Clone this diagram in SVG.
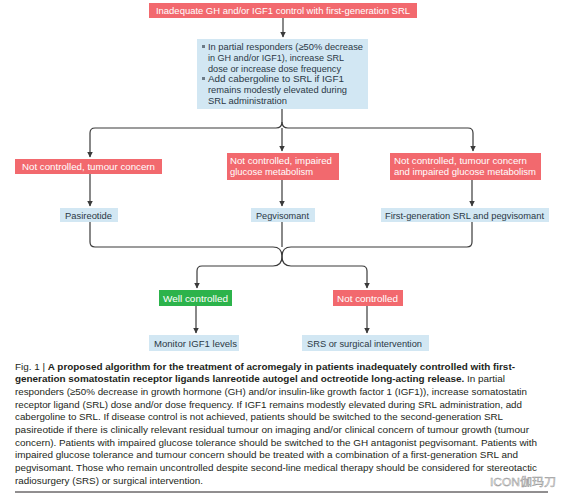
<svg xmlns="http://www.w3.org/2000/svg" width="577" height="500" viewBox="0 0 577 500">
<defs>
<marker id="arr" markerUnits="userSpaceOnUse" markerWidth="6" markerHeight="6" refX="5.5" refY="3" orient="auto">
<path d="M0,0 L6,3 L0,6 z" fill="#3a3a3a"/>
</marker>
<style>
.red{fill:#f2696e}
.blue{fill:#d2e7f3}
.green{fill:#2cb34b}
.wt{font-family:"Liberation Sans",Arial,sans-serif;font-size:9.3px;fill:#ffffff}
.bt{font-family:"Liberation Sans",Arial,sans-serif;font-size:9.3px;fill:#2b3845}
.cap{font-family:"Liberation Sans",Arial,sans-serif;font-size:9.5px;fill:#231f20}
.b{font-weight:bold}
.ln{fill:none;stroke:#3a3a3a;stroke-width:1.2}
.ar{marker-end:url(#arr)}
</style>
</defs>
<rect width="577" height="500" fill="#ffffff"/>

<g id="connectors">
<path class="ln ar" d="M283,18 V37"/>
<path class="ln ar" d="M282,109 V122 Q282,128 276,128 H95 Q90,128 90,133 V157"/>
<path class="ln ar" d="M282,122 Q282,128 288,128 H468 Q473,128 473,133 V151"/>
<path class="ln ar" d="M282,128 V151"/>
<path class="ln ar" d="M90,174 V206"/>
<path class="ln ar" d="M282,180 V206"/>
<path class="ln ar" d="M472,180 V206"/>
<path class="ln ar" d="M90,222 V242 Q90,247 95,247 H273 Q282,247 282,256.5 Q282,266 273,266 H202 Q197,266 197,271 V288"/>
<path class="ln ar" d="M472,222 V242 Q472,247 467,247 H291 Q282,247 282,256.5 Q282,266 291,266 H362 Q367,266 367,271 V288"/>
<path class="ln" d="M282,222 V247"/>
<path class="ln ar" d="M196,306 V333"/>
<path class="ln ar" d="M367,306 V333"/>
</g>

<g id="start">
<rect class="red" x="149" y="3" width="268" height="15"/>
<text class="wt" x="156" y="14" textLength="254" lengthAdjust="spacingAndGlyphs">Inadequate GH and/or IGF1 control with first-generation SRL</text>
</g>

<g id="adjust">
<rect class="blue" x="197" y="39" width="171" height="70"/>
<rect x="202" y="45" width="3" height="3" fill="#6c7a86"/>
<rect x="202" y="77" width="3" height="3" fill="#6c7a86"/>
<text class="bt" x="208" y="50" textLength="155" lengthAdjust="spacingAndGlyphs">In partial responders (≥50% decrease</text>
<text class="bt" x="208" y="61" textLength="136" lengthAdjust="spacingAndGlyphs">in GH and/or IGF1), increase SRL</text>
<text class="bt" x="208" y="72" textLength="133" lengthAdjust="spacingAndGlyphs">dose or increase dose frequency</text>
<text class="bt" x="208" y="82" textLength="136" lengthAdjust="spacingAndGlyphs">Add cabergoline to SRL if IGF1</text>
<text class="bt" x="208" y="93" textLength="139" lengthAdjust="spacingAndGlyphs">remains modestly elevated during</text>
<text class="bt" x="208" y="104" textLength="79" lengthAdjust="spacingAndGlyphs">SRL administration</text>
</g>

<g id="tumour">
<rect class="red" x="15" y="159" width="147" height="15"/>
<text class="wt" x="22" y="170" textLength="133" lengthAdjust="spacingAndGlyphs">Not controlled, tumour concern</text>
</g>

<g id="glucose">
<rect class="red" x="227" y="153" width="112" height="27"/>
<text class="wt" x="230" y="164" textLength="102" lengthAdjust="spacingAndGlyphs">Not controlled, impaired</text>
<text class="wt" x="230" y="175" textLength="83" lengthAdjust="spacingAndGlyphs">glucose metabolism</text>
</g>

<g id="both">
<rect class="red" x="390" y="153" width="151" height="27"/>
<text class="wt" x="394" y="164" textLength="133" lengthAdjust="spacingAndGlyphs">Not controlled, tumour concern</text>
<text class="wt" x="394" y="175" textLength="142" lengthAdjust="spacingAndGlyphs">and impaired glucose metabolism</text>
</g>

<g id="pasireotide">
<rect class="blue" x="60" y="208" width="58" height="14"/>
<text class="bt" x="65" y="218.5" textLength="47" lengthAdjust="spacingAndGlyphs">Pasireotide</text>
</g>

<g id="pegvisomant">
<rect class="blue" x="251" y="208" width="64" height="14"/>
<text class="bt" x="256" y="218.5" textLength="53" lengthAdjust="spacingAndGlyphs">Pegvisomant</text>
</g>

<g id="combination">
<rect class="blue" x="381" y="208" width="168" height="14"/>
<text class="bt" x="385" y="218.5" textLength="159" lengthAdjust="spacingAndGlyphs">First-generation SRL and pegvisomant</text>
</g>

<g id="well">
<rect class="green" x="159" y="290" width="73" height="16"/>
<text class="wt" x="163" y="301.5" textLength="65" lengthAdjust="spacingAndGlyphs">Well controlled</text>
</g>

<g id="notcontrolled">
<rect class="red" x="333" y="290" width="70" height="16"/>
<text class="wt" x="337" y="301.5" textLength="61" lengthAdjust="spacingAndGlyphs">Not controlled</text>
</g>

<g id="monitor">
<rect class="blue" x="149" y="335" width="90" height="16"/>
<text class="bt" x="154" y="346.5" textLength="83" lengthAdjust="spacingAndGlyphs">Monitor IGF1 levels</text>
</g>

<g id="srs">
<rect class="blue" x="302" y="335" width="127" height="16"/>
<text class="bt" x="307" y="346.5" textLength="115" lengthAdjust="spacingAndGlyphs">SRS or surgical intervention</text>
</g>

<g id="caption">
<text class="cap" x="15" y="369.5" textLength="500" lengthAdjust="spacingAndGlyphs">Fig. 1 | <tspan class="b">A proposed algorithm for the treatment of acromegaly in patients inadequately controlled with first-</tspan></text>
<text class="cap" x="15" y="382.2" textLength="490" lengthAdjust="spacingAndGlyphs"><tspan class="b">generation somatostatin receptor ligands lanreotide autogel and octreotide long-acting release.</tspan> In partial</text>
<text class="cap" x="15" y="394.9" textLength="512" lengthAdjust="spacingAndGlyphs">responders (≥50% decrease in growth hormone (GH) and/or insulin-like growth factor 1 (IGF1)), increase somatostatin</text>
<text class="cap" x="15" y="407.6" textLength="507" lengthAdjust="spacingAndGlyphs">receptor ligand (SRL) dose and/or dose frequency. If IGF1 remains modestly elevated during SRL administration, add</text>
<text class="cap" x="15" y="420.3" textLength="488" lengthAdjust="spacingAndGlyphs">cabergoline to SRL. If disease control is not achieved, patients should be switched to the second-generation SRL</text>
<text class="cap" x="15" y="433" textLength="514" lengthAdjust="spacingAndGlyphs">pasireotide if there is clinically relevant residual tumour on imaging and/or clinical concern of tumour growth (tumour</text>
<text class="cap" x="15" y="445.7" textLength="522" lengthAdjust="spacingAndGlyphs">concern). Patients with impaired glucose tolerance should be switched to the GH antagonist pegvisomant. Patients with</text>
<text class="cap" x="15" y="458.4" textLength="503" lengthAdjust="spacingAndGlyphs">impaired glucose tolerance and tumour concern should be treated with a combination of a first-generation SRL and</text>
<text class="cap" x="15" y="471.1" textLength="522" lengthAdjust="spacingAndGlyphs">pegvisomant. Those who remain uncontrolled despite second-line medical therapy should be considered for stereotactic</text>
<text class="cap" x="15" y="483.8" textLength="188" lengthAdjust="spacingAndGlyphs">radiosurgery (SRS) or surgical intervention.</text>
<line x1="15" y1="492" x2="548" y2="492" stroke="#231f20" stroke-width="1"/>
<text x="490" y="486" font-family="'Liberation Sans','Noto Sans CJK SC',sans-serif" font-size="11" fill="#ffffff" fill-opacity="0.85" stroke="#9a9a9a" stroke-width="0.5" textLength="66" lengthAdjust="spacingAndGlyphs">ICON伽玛刀</text>
</g>
</svg>
